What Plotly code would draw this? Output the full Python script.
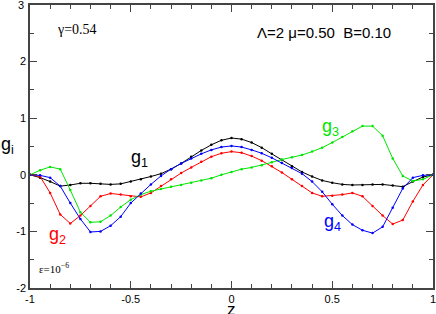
import plotly.graph_objects as go

z = [round(-1 + 0.05 * i, 2) for i in range(41)]

g1 = [0, -0.05, -0.12, -0.2, -0.18, -0.15, -0.15, -0.16, -0.17, -0.16, -0.12,
      -0.08, -0.03, 0.02, 0.1, 0.2, 0.32, 0.43, 0.53, 0.61, 0.65,
      0.63, 0.57, 0.48, 0.37, 0.26, 0.15, 0.05, -0.03, -0.1, -0.14,
      -0.17, -0.18, -0.18, -0.17, -0.17, -0.19, -0.21, -0.12, -0.04, 0]

g2 = [0, -0.03, -0.32, -0.7, -0.86, -0.72, -0.55, -0.38, -0.33, -0.35, -0.38,
      -0.39, -0.32, -0.2, -0.08, 0.03, 0.13, 0.23, 0.32, 0.38, 0.41,
      0.39, 0.33, 0.25, 0.15, 0.04, -0.08, -0.2, -0.32, -0.38, -0.37,
      -0.35, -0.32, -0.38, -0.55, -0.72, -0.87, -0.8, -0.47, -0.18, 0]

g3 = [0, 0.08, 0.14, 0.1, -0.27, -0.66, -0.84, -0.83, -0.72, -0.57, -0.44,
      -0.35, -0.29, -0.25, -0.21, -0.18, -0.14, -0.1, -0.06, 0.0, 0.05,
      0.1, 0.13, 0.17, 0.22, 0.27, 0.31, 0.35, 0.41, 0.48, 0.57,
      0.67, 0.77, 0.86, 0.86, 0.69, 0.29, -0.02, -0.11, -0.08, 0]

g4 = [0, -0.01, -0.05, -0.2, -0.5, -0.78, -1.01, -1.0, -0.9, -0.74, -0.5,
      -0.33, -0.17, -0.02, 0.1, 0.2, 0.29, 0.37, 0.44, 0.49, 0.51,
      0.49, 0.44, 0.38, 0.3, 0.21, 0.12, 0.02, -0.12, -0.3, -0.52,
      -0.72, -0.88, -0.98, -1.03, -0.92, -0.58, -0.24, -0.05, -0.01, 0]

series = [("g1", g1, "#000000"), ("g2", g2, "#ff0000"),
          ("g3", g3, "#00e600"), ("g4", g4, "#0000ff")]

xticks = [-1, -0.5, 0, 0.5, 1]
xticklabels = ["-1", "-0.5", "0", "0.5", "1"]
yticks = [-2, -1, 0, 1, 2, 3]
yticklabels = ["-2", "-1", "0", "1", "2", "3"]

tick_font = dict(family="Liberation Sans, Arial", size=11, color="black")

fig = go.Figure()
for name, vals, col in series:
    fig.add_trace(go.Scatter(x=z, y=vals, mode="lines+markers", name=name,
                             line=dict(color=col, width=1),
                             marker=dict(color=col, size=2.5),
                             showlegend=False, cliponaxis=False))

axis_common = dict(showgrid=False, zeroline=False, showline=True, automargin=False,
                   linecolor="#444444", linewidth=1.5, mirror="allticks",
                   ticks="inside", ticklen=7, tickwidth=1, tickcolor="#444444",
                   ticklabeloverflow="allow", tickfont=tick_font)

fig.update_xaxes(range=[-1, 1], tickvals=xticks, ticktext=xticklabels,
                 minor=dict(dtick=0.1, ticks="inside", ticklen=4, tickcolor="#444444"),
                 **axis_common)
# the top label ("3") sits on the figure edge, where plotly drops it; it is drawn as paper text at the top
fig.update_yaxes(range=[-2, 3], tickvals=yticks,
                 ticktext=yticklabels[:-1] + [""],
                 minor=dict(dtick=0.5, ticks="inside", ticklen=4, tickcolor="#444444"),
                 **axis_common)
fig.add_annotation(xref="paper", yref="paper", x=-0.009, y=1.0, xanchor="right",
                   yanchor="middle", text=yticklabels[-1], showarrow=False, font=tick_font)

annos = [
    dict(x=-0.766, y=2.56, text="γ=0.54", font=dict(family="Liberation Serif, Times New Roman", size=14)),
    dict(x=0.46, y=2.51, text="Λ=2 μ=0.50  B=0.10", font=dict(family="Liberation Sans, Arial", size=15)),
    dict(x=-0.457, y=0.29, text="g<sub>1</sub>", font=dict(family="Liberation Sans, Arial", size=18, color="black")),
    dict(x=-0.865, y=-1.08, text="g<sub>2</sub>", font=dict(family="Liberation Sans, Arial", size=18, color="#ff0000")),
    dict(x=0.49, y=0.84, text="g<sub>3</sub>", font=dict(family="Liberation Sans, Arial", size=18, color="#00e600")),
    dict(x=0.5, y=-0.84, text="g<sub>4</sub>", font=dict(family="Liberation Sans, Arial", size=18, color="#0000ff")),
    dict(x=-0.88, y=-1.65, text="ε=10<sup>−6</sup>", font=dict(family="Liberation Serif, Times New Roman", size=11)),
]
for a in annos:
    a.setdefault("font", {})
    a["font"].setdefault("color", "black")
    fig.add_annotation(xref="x", yref="y", showarrow=False, **a)

fig.add_annotation(xref="paper", yref="paper", x=-0.055, y=0.505, xanchor="center", yanchor="middle",
                   text="g<sub>i</sub>", showarrow=False,
                   font=dict(family="Liberation Sans, Arial", size=18, color="black"))
fig.add_annotation(xref="paper", yref="paper", x=0.5, y=-0.075, xanchor="center", yanchor="middle",
                   text="z", showarrow=False,
                   font=dict(family="Liberation Sans, Arial", size=17, color="black"))

fig.update_layout(width=436, height=314, margin=dict(l=30, r=3, t=5, b=26),
                  plot_bgcolor="white", paper_bgcolor="white")

fig.write_html("out.html", config={"displayModeBar": False},
               post_script="document.body.style.margin='0';document.body.style.overflow='hidden';")
